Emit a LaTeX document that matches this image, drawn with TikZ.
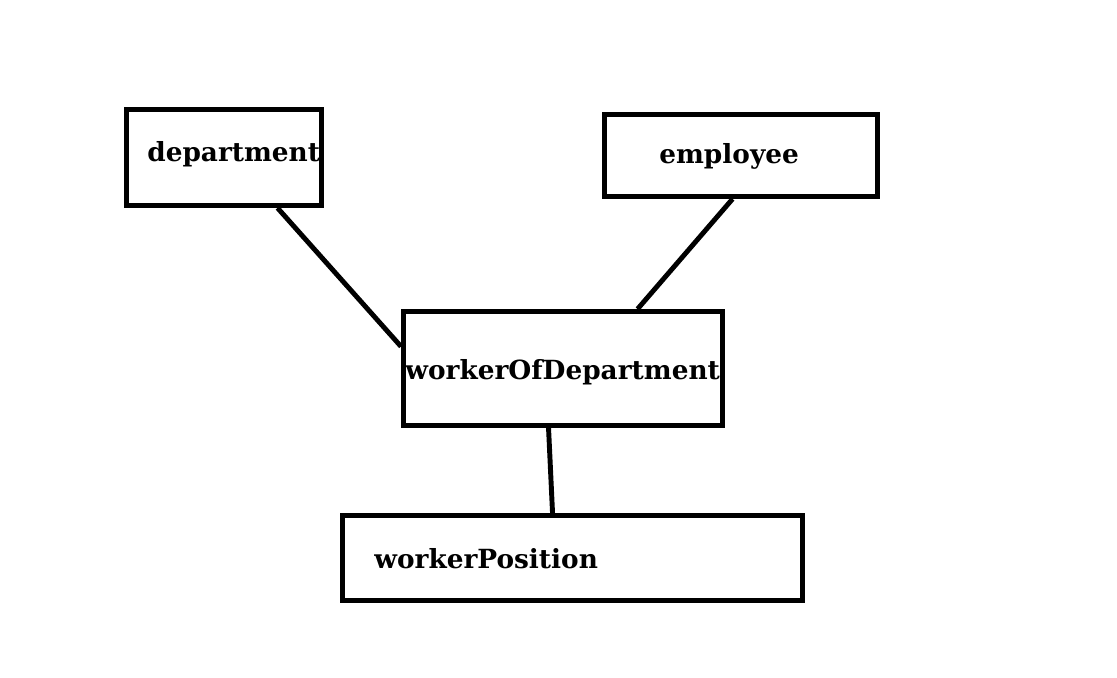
\documentclass[tikz,border=0pt]{standalone}
\usepackage{fontspec}
\setmainfont{DejaVu Serif}
\usetikzlibrary{calc}
\tikzset{
  ent/.style={draw=black, line width=2.8pt, inner sep=0pt, rectangle},
  lbl/.style={anchor=base west, inner sep=0pt, font=\bfseries\fontsize{15}{18}\selectfont},
  link/.style={line width=2.8pt}
}
\begin{document}
\begin{tikzpicture}[x=0.02cm,y=-0.02cm]
\useasboundingbox[fill=white] (0,0) rectangle (1117,678);
\node[ent, minimum width=195*0.02cm, minimum height=96*0.02cm] (dep) at (224,157.5) {};
\node[ent, minimum width=273*0.02cm, minimum height=82*0.02cm] (emp) at (741,155.5) {};
\node[ent, minimum width=319*0.02cm, minimum height=114*0.02cm] (wod) at (563,368.5) {};
\node[ent, minimum width=460*0.02cm, minimum height=85*0.02cm] (wp) at (572.5,558) {};
\node[lbl] (tdep) at (147,162) {department};
\node[lbl] (temp) at (659,164) {employee};
\node[lbl] (twod) at (405,380) {workerOfDepartment};
\node[lbl] (twp) at (374,569) {workerPosition};
\draw[link] ($(dep.south west)+(153.5,0)$) -- ($(wod.north west)+(0,37.5)$);
\draw[link] ($(emp.south west)+(130.5,0)$) -- ($(wod.north west)+(236.5,0)$);
\draw[link] ($(wod.south west)+(147.5,0)$) -- ($(wp.north west)+(212.5,0)$);
\end{tikzpicture}
\end{document}
